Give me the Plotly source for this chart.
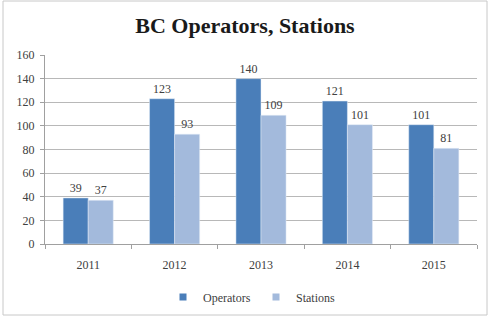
import plotly.graph_objects as go

years = ["2011", "2012", "2013", "2014", "2015"]
operators = [39, 123, 140, 121, 101]
stations = [37, 93, 109, 101, 81]
y_ticks = [0, 20, 40, 60, 80, 100, 120, 140, 160]

font_family = "Liberation Serif, DejaVu Serif, serif"
c_op = "#4a7eb9"
c_st = "#a3badc"

fig = go.Figure()
fig.add_trace(go.Bar(x=years, y=operators, name="Operators", marker_color=c_op,
                     text=operators, textposition="outside", cliponaxis=False,
                     textfont=dict(size=12, color="#404040"), showlegend=False))
fig.add_trace(go.Bar(x=years, y=stations, name="Stations", marker_color=c_st,
                     text=stations, textposition="outside", cliponaxis=False,
                     textfont=dict(size=12, color="#404040"), showlegend=False))
# legend entries with small square markers
fig.add_trace(go.Scatter(x=[None], y=[None], mode="markers", name="Operators",
                         marker=dict(symbol="square", size=7, color=c_op)))
fig.add_trace(go.Scatter(x=[None], y=[None], mode="markers", name="Stations",
                         marker=dict(symbol="square", size=7, color=c_st)))

fig.update_layout(
    width=490, height=316,
    margin=dict(l=45, r=13, t=55, b=72, autoexpand=False),
    paper_bgcolor="white", plot_bgcolor="white",
    font=dict(family=font_family, size=12, color="#404040"),
    title=dict(text="<b>BC Operators, Stations</b>", x=0.5, xanchor="center",
               y=1 - 25 / 316, yanchor="middle", yref="container",
               font=dict(family=font_family, size=22, color="#1a1a1a")),
    barmode="group", bargap=0.42, bargroupgap=0,
    showlegend=True,
    legend=dict(orientation="h", x=(163 - 45) / 432, xanchor="left", y=-53 / 189,
                yanchor="middle", font=dict(size=12, color="#404040"), itemwidth=30,
                entrywidth=48, entrywidthmode="pixels",
                tracegroupgap=0, traceorder="normal"),
    xaxis=dict(showline=True, linecolor="#a0a0a0", linewidth=1,
               ticks="outside", ticklen=4, tickcolor="#a0a0a0",
               tickson="boundaries", showgrid=False, automargin=False,
               ticklabelstandoff=10),
    yaxis=dict(range=[0, 160], tickvals=y_ticks, showgrid=True, gridcolor="#b8b8b8",
               gridwidth=1, showline=True, linecolor="#a0a0a0", ticks="outside",
               ticklen=4, tickcolor="#a0a0a0", zeroline=False, automargin=False,
               ticklabelstandoff=3),
    shapes=[dict(type="rect", xref="paper", yref="paper", x0=-42 / 432, x1=1 + 10 / 432,
                 y0=-71 / 189, y1=1 + 54 / 189, line=dict(color="#c8c8c8", width=1))],
)

fig.write_html("out.html", config={"displayModeBar": False},
               post_script="document.body.style.margin='0';")
